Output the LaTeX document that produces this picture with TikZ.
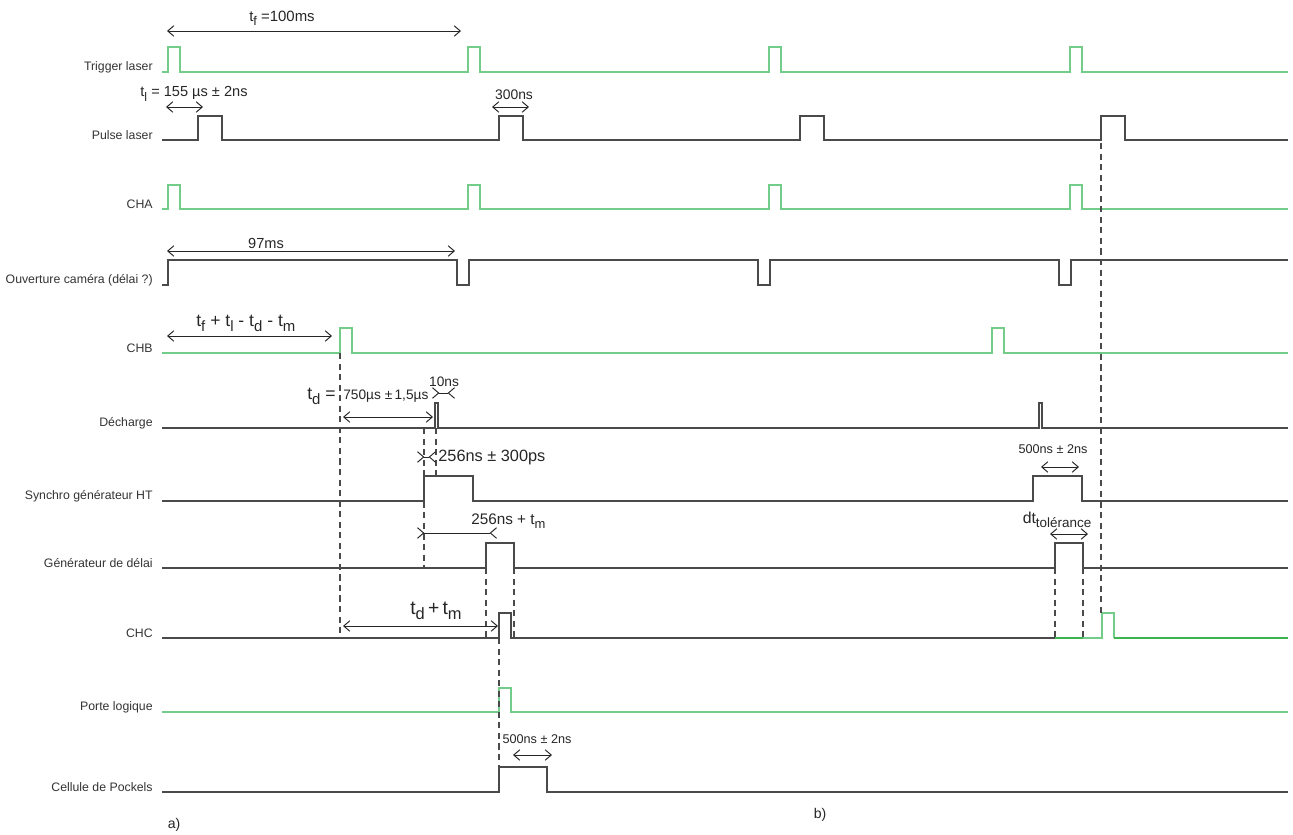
\documentclass[tikz,border=0pt]{standalone}
\usepackage{fontspec}
\setmainfont{Liberation Sans}
\usetikzlibrary{arrows.meta}
\definecolor{sgrey}{HTML}{4A4A4A}
\definecolor{sgreen}{HTML}{74CC8A}
\definecolor{dgreen}{HTML}{3DB54E}
\newcommand{\low}[1]{\raisebox{-0.55ex}{\scalebox{0.85}{#1}}}
\newcommand{\fs}[1]{\fontsize{#1}{#1}\selectfont}
\begin{document}
\begin{tikzpicture}[x=0.02cm,y=-0.02cm,
  sig/.style={draw=sgrey,line width=0.8pt},
  grn/.style={draw=sgreen,line width=0.9pt},
  guide/.style={draw=sgrey,line width=0.7pt,dash pattern=on 3.5pt off 2.5pt},
  dim/.style={draw=black!85,line width=0.55pt},
  >={Straight Barb[length=3.5pt,width=6pt]},
  siglabel/.style={anchor=east,font=\fs{7pt},text=black!80,inner sep=0pt},
  dimlabel/.style={text=black!85,inner sep=0pt}]
\useasboundingbox (0,0) rectangle (1293,834);
% signal names
\node[siglabel] (lTrig) at (153,67) {Trigger laser};
\node[siglabel] (lPulse) at (153,135) {Pulse laser};
\node[siglabel] (lCHA) at (153,204) {CHA};
\node[siglabel] (lCam) at (153,280) {Ouverture caméra (délai ?)};
\node[siglabel] (lCHB) at (153,348) {CHB};
\node[siglabel] (lDech) at (153,423) {Décharge};
\node[siglabel] (lSync) at (153,496) {Synchro générateur HT};
\node[siglabel] (lGen) at (153,563) {Générateur de délai};
\node[siglabel] (lCHC) at (153,633) {CHC};
\node[siglabel] (lPorte) at (153,707) {Porte logique};
\node[siglabel] (lPock) at (153,787) {Cellule de Pockels};
% waveforms
\draw[grn] (162,72) foreach \a in {168,468,769,1070} {-- (\a,72) -- (\a,47) -- (\a+12,47) -- (\a+12,72)} -- (1288,72);
\draw[sig] (162,140) foreach \a in {198,499,800,1101} {-- (\a,140) -- (\a,116) -- (\a+24,116) -- (\a+24,140)} -- (1288,140);
\draw[grn] (162,209) foreach \a in {168,468,769,1070} {-- (\a,209) -- (\a,185) -- (\a+12,185) -- (\a+12,209)} -- (1288,209);
\draw[sig] (162,285) -- (168,285) -- (168,260) foreach \a in {457,758,1059} {-- (\a,260) -- (\a,285) -- (\a+12,285) -- (\a+12,260)} -- (1288,260);
\draw[grn] (162,353) foreach \a in {340,992} {-- (\a,353) -- (\a,328) -- (\a+12,328) -- (\a+12,353)} -- (1288,353);
\draw[sig] (162,428) foreach \a in {435,1039} {-- (\a,428) -- (\a,403) -- (\a+3,403) -- (\a+3,428)} -- (1288,428);
\draw[sig] (162,501) -- (424,501) -- (424,476) -- (473,476) -- (473,501) -- (1033,501) -- (1033,476) -- (1082,476) -- (1082,501) -- (1288,501);
\draw[sig] (162,568) -- (486,568) -- (486,543) -- (514,543) -- (514,568) -- (1055,568) -- (1055,543) -- (1083,543) -- (1083,568) -- (1288,568);
\draw[sig] (162,638) -- (499,638) -- (499,613) -- (511,613) -- (511,638) -- (1055,638);
\draw[draw=dgreen,line width=0.9pt] (1055,638) -- (1083,638);
\draw[grn] (1083,638) -- (1102,638) -- (1102,613) -- (1114,613) -- (1114,638);
\draw[draw=dgreen,line width=0.9pt] (1114,638) -- (1288,638);
\draw[grn] (162,712) -- (499,712) -- (499,688) -- (511,688) -- (511,712) -- (1288,712);
\draw[sig] (162,792) -- (499,792) -- (499,767) -- (547,767) -- (547,792) -- (1288,792);
% guides
\draw[guide] (340,353) -- (340,638);
\draw[guide] (424,428) -- (424,568);
\draw[guide] (436,428) -- (436,476);
\draw[guide] (486,568) -- (486,638);
\draw[guide] (514,568) -- (514,638);
\draw[guide] (499,638) -- (499,792);
\draw[guide] (1055,568) -- (1055,638);
\draw[guide] (1083,568) -- (1083,638);
\draw[guide] (1101,143) -- (1101,613);
% dimensions
\draw[dim,<->] (167,31) -- (461,31);
\node[dimlabel,font=\fs{8.5pt}] (tf) at (282,18) {t\low{f} =100ms};
\draw[dim,<->] (166,107) -- (203,107);
\node[dimlabel,font=\fs{8.3pt}] (tl) at (194,94) {t\low{l} = 155 µs ± 2ns};
\draw[dim,<->] (492,107) -- (529,107);
\node[dimlabel,font=\fs{7.9pt}] (d300) at (514,95) {300ns};
\draw[dim,<->] (167,251) -- (455,251);
\node[dimlabel,font=\fs{8.3pt}] (d97) at (266,243) {97ms};
\draw[dim,<->] (167,336) -- (332,336);
\node[dimlabel,font=\fs{10pt},anchor=west] (dCHB) at (196,323) {t\low{f} + t\low{l} - t\low{d} - t\low{m}};
\node[dimlabel,font=\fs{10pt},anchor=west] (td) at (307,396) {t\low{d} =};
\node[dimlabel,font=\fs{7.8pt},anchor=west] (d750) at (343,396) {750µs ±\,1,5µs};
\draw[dim,<->] (343,417) -- (433,417);
\draw[dim,>-<] (432,393) -- (455,393);
\node[dimlabel,font=\fs{7.8pt}] (d10) at (444,382) {10ns};
\draw[dim,>-<] (417,457) -- (436,457);
\node[dimlabel,font=\fs{9.3pt},anchor=west] (d256) at (438,457) {256ns ± 300ps};
\draw[dim,>-<] (417,533) -- (497,533);
\node[dimlabel,font=\fs{8.7pt},anchor=west] (d256m) at (471,521) {256ns + t\low{m}};
\draw[dim,<->] (343,626) -- (498,626);
\node[dimlabel,font=\fs{11pt}] (tdm) at (436,611) {t\low{d}\,+\,t\low{m}};
\draw[dim,<->] (1041,467) -- (1079,467);
\node[dimlabel,font=\fs{7.2pt}] (d500r) at (1053,449) {500ns ± 2ns};
\draw[dim,<->] (1050,534) -- (1088,534);
\node[dimlabel,font=\fs{9pt}] (dtol) at (1057,520) {dt\low{tolérance}};
\draw[dim,<->] (513,755) -- (552,755);
\node[dimlabel,font=\fs{7.2pt}] (d500l) at (537,739) {500ns ± 2ns};
% panel marks
\node[dimlabel,font=\fs{8pt}] (pa) at (174,825) {a)};
\node[dimlabel,font=\fs{8pt}] (pb) at (820,815) {b)};
\end{tikzpicture}
\end{document}
